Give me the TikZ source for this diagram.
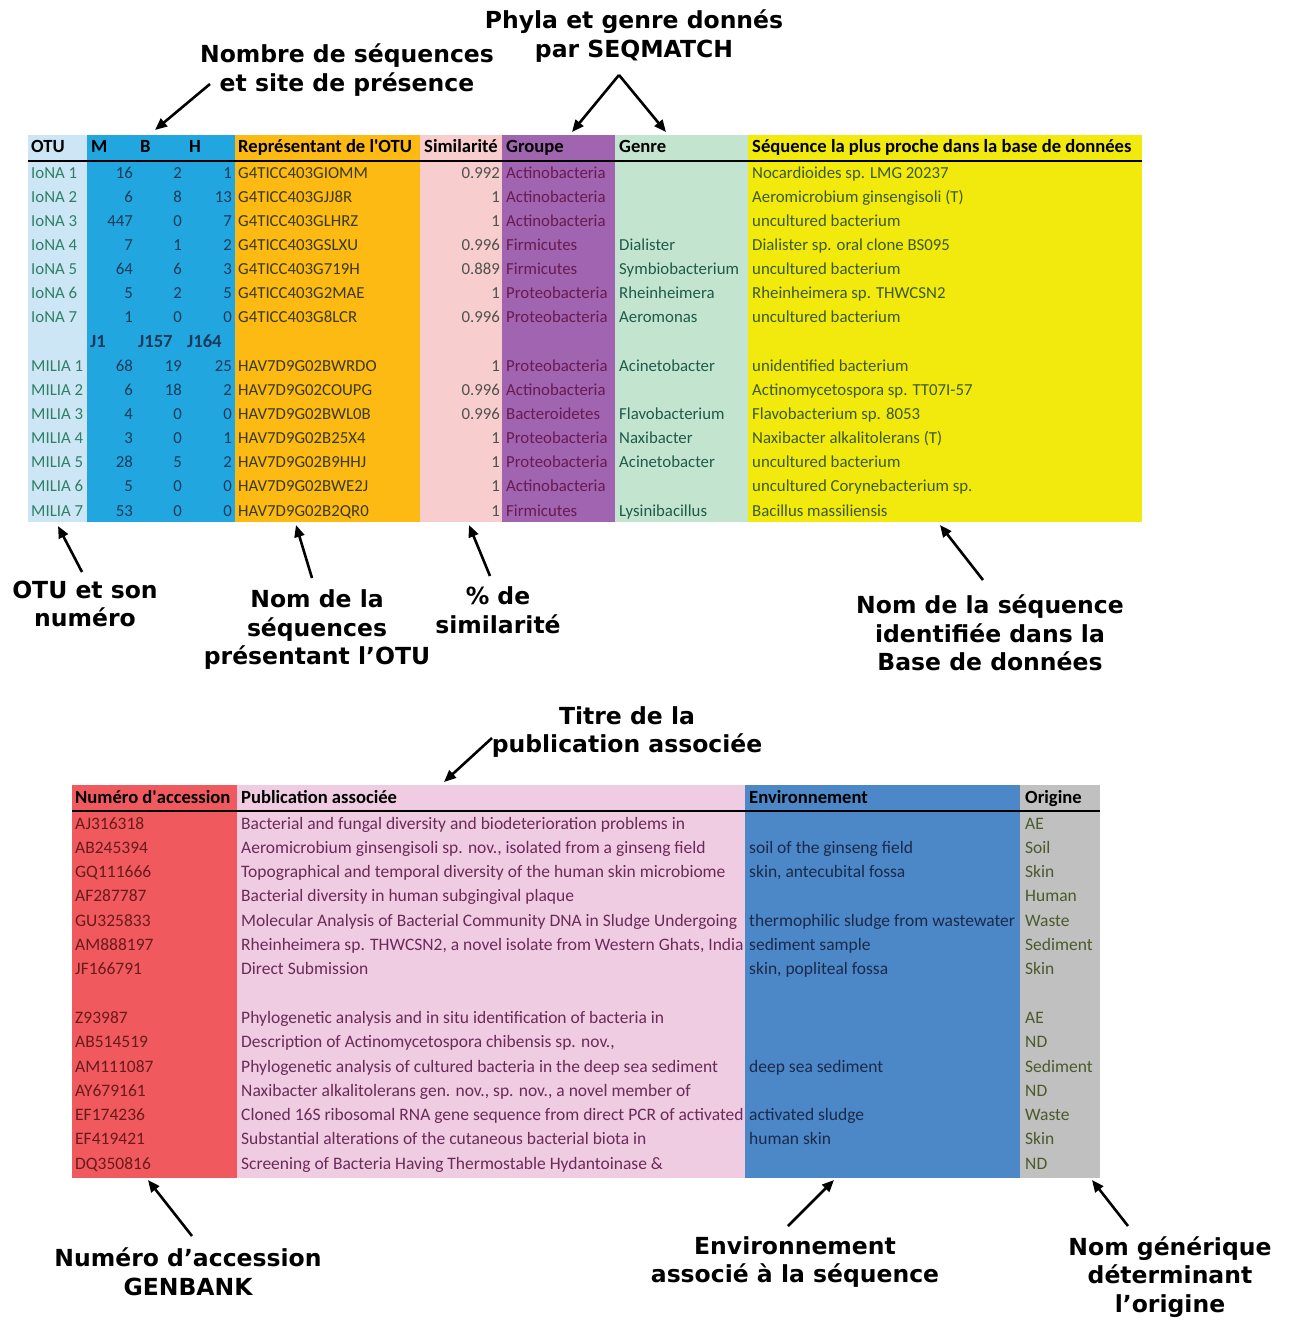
\documentclass[tikz,border=0pt]{standalone}
\usepackage{fontspec}
\setmainfont{Carlito}
\newfontfamily\annfont{DejaVu Sans}
\usetikzlibrary{arrows.meta, positioning}

% couleurs des colonnes
\definecolor{colotu}{HTML}{CDE6F5}
\definecolor{colnb}{HTML}{22A6E0}
\definecolor{colrep}{HTML}{FDBA13}
\definecolor{colsim}{HTML}{F8CDCD}
\definecolor{colgrp}{HTML}{A064B0}
\definecolor{colgen}{HTML}{C3E5D0}
\definecolor{colseq}{HTML}{F2EA0C}
\definecolor{colacc}{HTML}{F05A5F}
\definecolor{colpub}{HTML}{F0CCE2}
\definecolor{colenv}{HTML}{4C87C8}
\definecolor{colori}{HTML}{C0C0C0}
% couleurs des textes
\definecolor{txotu}{HTML}{2E7F66}
\definecolor{txnb}{HTML}{1A3A5A}
\definecolor{txrep}{HTML}{3A3A1A}
\definecolor{txsim}{HTML}{505050}
\definecolor{txgrp}{HTML}{6A1A50}
\definecolor{txgen}{HTML}{1E5A4A}
\definecolor{txseq}{HTML}{3C5A1E}
\definecolor{txacc}{HTML}{6A1A1A}
\definecolor{txpub}{HTML}{6A2A5A}
\definecolor{txenv}{HTML}{1A2A4A}
\definecolor{txori}{HTML}{4A5A2A}

\tikzset{
    cellg/.style={anchor=west, inner sep=0pt, text height=11pt, text depth=3pt,
        font=\fontsize{16.8}{19}\selectfont},
    celld/.style={cellg, anchor=east},
    cellb/.style={cellg, font=\fontsize{17.5}{20}\selectfont},
    entete/.style={cellg, font=\fontsize{18.6}{21}\selectfont\bfseries},
    annot/.style={align=center, inner sep=0pt,
        font=\annfont\bfseries\fontsize{23.5}{28.5}\selectfont},
    fleche/.style={-{Triangle[length=12pt,width=10pt]}, line width=2.6pt},
}

\begin{document}
\begin{tikzpicture}[x=1pt, y=-1pt]
    \useasboundingbox (0,0) rectangle (1294,1320);

    % ---- tableau des OTU ----
    \fill[colotu] (28,135) rectangle (87,522);
    \fill[colnb]  (87,135) rectangle (235,522);
    \fill[colrep] (235,135) rectangle (420,522);
    \fill[colsim] (420,135) rectangle (502,522);
    \fill[colgrp] (502,135) rectangle (615,522);
    \fill[colgen] (615,135) rectangle (748,522);
    \fill[colseq] (748,135) rectangle (1142,522);

    % en-tete
    \node[entete] (hotu) at (31,148) {OTU};
    \node[entete] (hm) at (91,148) {M};
    \node[entete] (hb) at (140,148) {B};
    \node[entete] (hh) at (189,148) {H};
    \node[entete] (hrep) at (238,148) {Représentant de l\textquotesingle{}OTU};
    \node[entete] (hsim) at (424,148) {Similarité};
    \node[entete] (hgrp) at (506,148) {Groupe};
    \node[entete] (hgen) at (619,148) {Genre};
    \node[entete] (hseq) at (752,148) {Séquence la plus proche dans la base de données};
    \draw[line width=1.8pt] (28,161) -- (1142,161);

    % lignes IoNA
    \foreach \otu/\m/\b/\h/\rep/\sim/\grp/\gen/\seq [count=\i from 0] in {
        IoNA 1/16/2/1/G4TICC403GIOMM/0.992/Actinobacteria//Nocardioides sp. LMG 20237,
        IoNA 2/6/8/13/G4TICC403GJJ8R/1/Actinobacteria//Aeromicrobium ginsengisoli (T),
        IoNA 3/447/0/7/G4TICC403GLHRZ/1/Actinobacteria//uncultured bacterium,
        IoNA 4/7/1/2/G4TICC403GSLXU/0.996/Firmicutes/Dialister/Dialister sp. oral clone BS095,
        IoNA 5/64/6/3/G4TICC403G719H/0.889/Firmicutes/Symbiobacterium/uncultured bacterium,
        IoNA 6/5/2/5/G4TICC403G2MAE/1/Proteobacteria/Rheinheimera/Rheinheimera sp. THWCSN2,
        IoNA 7/1/0/0/G4TICC403G8LCR/0.996/Proteobacteria/Aeromonas/uncultured bacterium,
        %
        MILIA 1/68/19/25/HAV7D9G02BWRDO/1/Proteobacteria/Acinetobacter/unidentified bacterium,
        MILIA 2/6/18/2/HAV7D9G02COUPG/0.996/Actinobacteria//Actinomycetospora sp. TT07I-57,
        MILIA 3/4/0/0/HAV7D9G02BWL0B/0.996/Bacteroidetes/Flavobacterium/Flavobacterium sp. 8053,
        MILIA 4/3/0/1/HAV7D9G02B25X4/1/Proteobacteria/Naxibacter/Naxibacter alkalitolerans (T),
        MILIA 5/28/5/2/HAV7D9G02B9HHJ/1/Proteobacteria/Acinetobacter/uncultured bacterium,
        MILIA 6/5/0/0/HAV7D9G02BWE2J/1/Actinobacteria//uncultured Corynebacterium sp.,
        MILIA 7/53/0/0/HAV7D9G02B2QR0/1/Firmicutes/Lysinibacillus/Bacillus massiliensis}
    {
        \pgfmathsetmacro\k{\i<7 ? \i : \i+1}
        \pgfmathsetmacro\yy{174+24.15*\k}
        \node[cellg, txotu] (otu\i) at (31,\yy) {\otu};
        \node[celld, txnb] (m\i) at (133,\yy) {\m};
        \node[celld, txnb] (b\i) at (182,\yy) {\b};
        \node[celld, txnb] (h\i) at (232,\yy) {\h};
        \node[cellg, txrep] (rep\i) at (238,\yy) {\rep};
        \node[celld, txsim] (sim\i) at (500,\yy) {\sim};
        \node[cellg, txgrp] (grp\i) at (506,\yy) {\grp};
        \node[cellg, txgen] (gen\i) at (619,\yy) {\gen};
        \node[cellg, txseq] (seq\i) at (752,\yy) {\seq};
    }
    % sites MILIA
    \node[entete, txnb] (hj1) at (90,343) {J1};
    \node[entete, txnb] (hj157) at (138,343) {J157};
    \node[entete, txnb] (hj164) at (187,343) {J164};

    % ---- tableau GENBANK ----
    \fill[colacc] (72,785) rectangle (237,1178);
    \fill[colpub] (237,785) rectangle (745,1178);
    \fill[colenv] (745,785) rectangle (1020,1178);
    \fill[colori] (1020,785) rectangle (1100,1178);

    \node[entete] (hacc) at (75,799) {Numéro d\textquotesingle{}accession};
    \node[entete] (hpub) at (241,799) {Publication associée};
    \node[entete] (henv) at (749,799) {Environnement};
    \node[entete] (hori) at (1025,799) {Origine};
    \draw[line width=1.8pt] (72,811) -- (1100,811);

    \foreach \acc/\pub/\env/\ori [count=\i from 0] in {
        AJ316318/Bacterial and fungal diversity and biodeterioration problems in//AE,
        AB245394/{Aeromicrobium ginsengisoli sp. nov., isolated from a ginseng field}/soil of the ginseng field/Soil,
        GQ111666/Topographical and temporal diversity of the human skin microbiome/{skin, antecubital fossa}/Skin,
        AF287787/Bacterial diversity in human subgingival plaque//Human,
        GU325833/Molecular Analysis of Bacterial Community DNA in Sludge Undergoing/thermophilic sludge from wastewater/Waste,
        AM888197/{Rheinheimera sp. THWCSN2, a novel isolate from Western Ghats, India}/sediment sample/Sediment,
        JF166791/Direct Submission/{skin, popliteal fossa}/Skin,
        %
        Z93987/Phylogenetic analysis and in situ identification of bacteria in//AE,
        AB514519/{Description of Actinomycetospora chibensis sp. nov.,}//ND,
        AM111087/Phylogenetic analysis of cultured bacteria in the deep sea sediment/deep sea sediment/Sediment,
        AY679161/{Naxibacter alkalitolerans gen. nov., sp. nov., a novel member of}//ND,
        EF174236/Cloned 16S ribosomal RNA gene sequence from direct PCR of activated/activated sludge/Waste,
        EF419421/Substantial alterations of the cutaneous bacterial biota in/human skin/Skin,
        DQ350816/Screening of Bacteria Having Thermostable Hydantoinase \&//ND}
    {
        \pgfmathsetmacro\k{\i<7 ? \i : \i+1}
        \pgfmathsetmacro\yy{825+24.3*\k}
        \node[cellb, txacc] (acc\i) at (75,\yy) {\acc};
        \node[cellb, txpub] (pub\i) at (241,\yy) {\pub};
        \node[cellb, txenv] (env\i) at (749,\yy) {\env};
        \node[cellb, txori] (ori\i) at (1025,\yy) {\ori};
    }

    % ---- annotations ----
    \node[annot] (anbseq) at (347,70) {Nombre de séquences\\et site de présence};
    \node[annot] (aphyla) at (634,36) {Phyla et genre donnés\\par SEQMATCH};
    \node[annot] (aotu) at (85,604) {OTU et son\\numéro};
    \node[annot] (anom) at (317,630) {Nom de la\\séquences\\présentant l’OTU};
    \node[annot] (asim) at (498,610) {\% de\\similarité};
    \node[annot] (aseq) at (990,633) {Nom de la séquence\\identifiée dans la\\Base de données};
    \node[annot] (atitre) at (627,732) {Titre de la\\publication associée};
    \node[annot] (aacc) at (188,1272) {Numéro d’accession\\GENBANK};
    \node[annot] (aenv) at (795,1262) {Environnement\\associé à la séquence};
    \node[annot] (aori) at (1170,1277) {Nom générique\\déterminant\\l’origine};

    % points des fleches
    \coordinate (dnbseq) at (210,84);   \coordinate (fnbseq) at (155,130);
    \coordinate (dphyla) at (619,75);
    \coordinate (fgrp) at (572,132);    \coordinate (fgen) at (666,132);
    \coordinate (dotu) at (82,572);     \coordinate (fotu) at (58,526);
    \coordinate (dnom) at (312,578);    \coordinate (fnom) at (296,525);
    \coordinate (dsim) at (490,576);    \coordinate (fsim) at (469,525);
    \coordinate (dseq) at (983,580);    \coordinate (fseq) at (940,525);
    \coordinate (dtitre) at (492,738);  \coordinate (ftitre) at (444,782);
    \coordinate (dacc) at (192,1236);   \coordinate (facc) at (148,1180);
    \coordinate (denv) at (788,1226);   \coordinate (fenv) at (834,1180);
    \coordinate (dori) at (1128,1226);  \coordinate (fori) at (1092,1180);

    \draw[fleche] (dnbseq) -- (fnbseq);
    \draw[fleche] (dphyla) -- (fgrp);
    \draw[fleche] (dphyla) -- (fgen);
    \draw[fleche] (dotu) -- (fotu);
    \draw[fleche] (dnom) -- (fnom);
    \draw[fleche] (dsim) -- (fsim);
    \draw[fleche] (dseq) -- (fseq);
    \draw[fleche] (dtitre) -- (ftitre);
    \draw[fleche] (dacc) -- (facc);
    \draw[fleche] (denv) -- (fenv);
    \draw[fleche] (dori) -- (fori);
\end{tikzpicture}
\end{document}
